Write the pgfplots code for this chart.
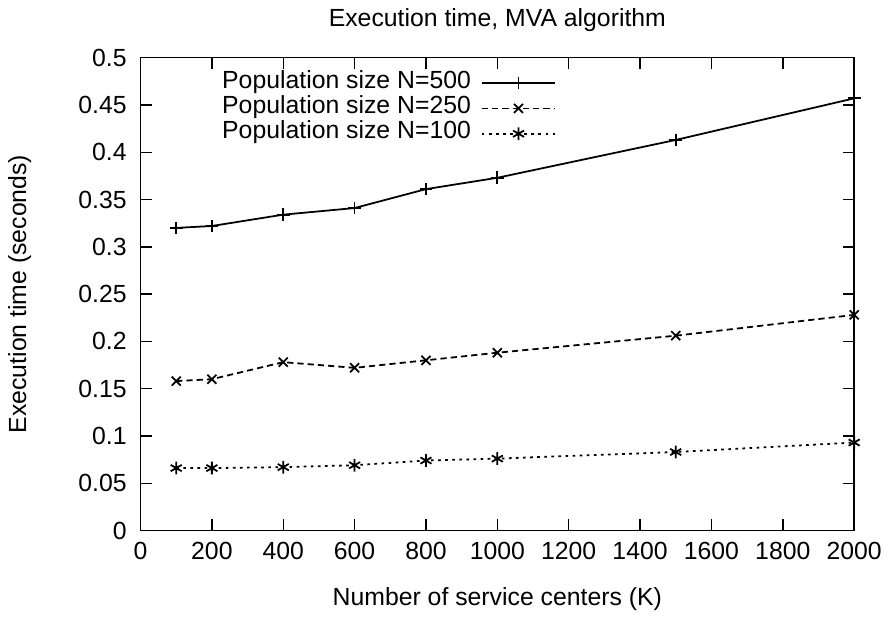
\documentclass[border=0pt]{standalone}
\usepackage{pgfplots}
\pgfplotsset{compat=1.18}
\usepackage{fontspec}
\setmainfont{Liberation Sans}
\begin{document}
\fontsize{14}{16}\selectfont
\begin{tikzpicture}
\begin{axis}[
    scale only axis,
    width=403pt,
    height=267pt,
    xmin=0, xmax=2000,
    ymin=0, ymax=0.5,
    xtick={0,200,...,2000},
    ytick={0,0.05,...,0.5},
    tick align=inside,
    tick pos=both,
    major tick length=6.5pt,
    axis line style={line width=0.8pt},
    every tick/.style={line width=0.8pt, black},
    /pgf/number format/assume math mode=true,
    xticklabel style={yshift=-2pt, /pgf/number format/.cd, 1000 sep={}},
    yticklabel style={xshift=-3pt, /pgf/number format/.cd, fixed, precision=2},
    scaled y ticks=false,
    title={Execution time, MVA algorithm},
    title style={yshift=4pt},
    xlabel={Number of service centers (K)},
    xlabel shift=6pt,
    ylabel={Execution time (seconds)},
    ylabel shift=17pt,
    legend plot pos=right,
    legend cell align=right,
    legend style={draw=none, fill=none, inner sep=0pt,
        at={(rel axis cs:0.583,1)}, anchor=north east, yshift=-7pt,
        row sep=0pt, column sep=5.6pt,
        nodes={inner sep=0pt, text height=10pt, text depth=4.3pt},
        font=\fontsize{14}{14}\selectfont},
    legend image code/.code={
        \draw[mark repeat=2,mark phase=2] plot coordinates {(0cm,0cm) (0.73cm,0cm) (1.46cm,0cm)};
    },
    every axis plot/.append style={line width=1pt, mark size=3.6pt, black, mark options={solid}},
]
\addplot[mark=+] coordinates {
    (100,0.320) (200,0.322) (400,0.334) (600,0.341) (800,0.361) (1000,0.373) (1500,0.413) (2000,0.457)
};
\addplot[mark=x, dash pattern=on 3.5pt off 2.3pt] coordinates {
    (100,0.158) (200,0.160) (400,0.178) (600,0.172) (800,0.180) (1000,0.188) (1500,0.206) (2000,0.228)
};
\addplot[mark=asterisk, dash pattern=on 1.5pt off 2.5pt] coordinates {
    (100,0.066) (200,0.066) (400,0.067) (600,0.069) (800,0.074) (1000,0.076) (1500,0.083) (2000,0.093)
};
\legend{Population size N=500, Population size N=250, Population size N=100}
\end{axis}
\end{tikzpicture}
\end{document}
